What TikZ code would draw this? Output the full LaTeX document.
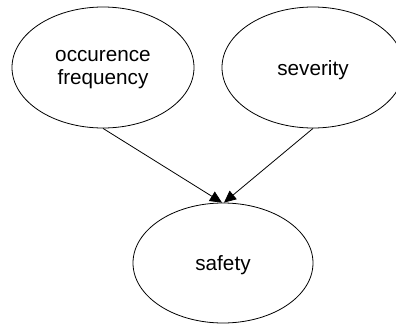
\documentclass[tikz,border=0pt]{standalone}
\usepackage{fontspec}
\setmainfont{Liberation Sans}
\usetikzlibrary{shapes.geometric,arrows.meta}
\begin{document}
\begin{tikzpicture}[x=1bp,y=-1bp,
  var/.style={draw,ellipse,line width=0.8bp,inner sep=0pt,
    minimum width=182bp,minimum height=121bp,align=center,text depth=0bp,
    font=\fontsize{20.7bp}{23bp}\selectfont},
  dep/.style={line width=0.8bp,-{Triangle[length=12bp,width=11bp]}}]
  \useasboundingbox (0,0) rectangle (396,324);
  \node[var] (freq) at (103,67.5) {occurence\\frequency};
  \node[var] (sev) at (313,67.5) {severity};
  \node[var,minimum width=180bp,minimum height=120bp] (safe) at (223,263) {safety};
  \draw[dep] (freq.south) -- ([xshift=-1bp]safe.north);
  \draw[dep] (sev.south) -- ([xshift=1bp]safe.north);
\end{tikzpicture}
\end{document}
